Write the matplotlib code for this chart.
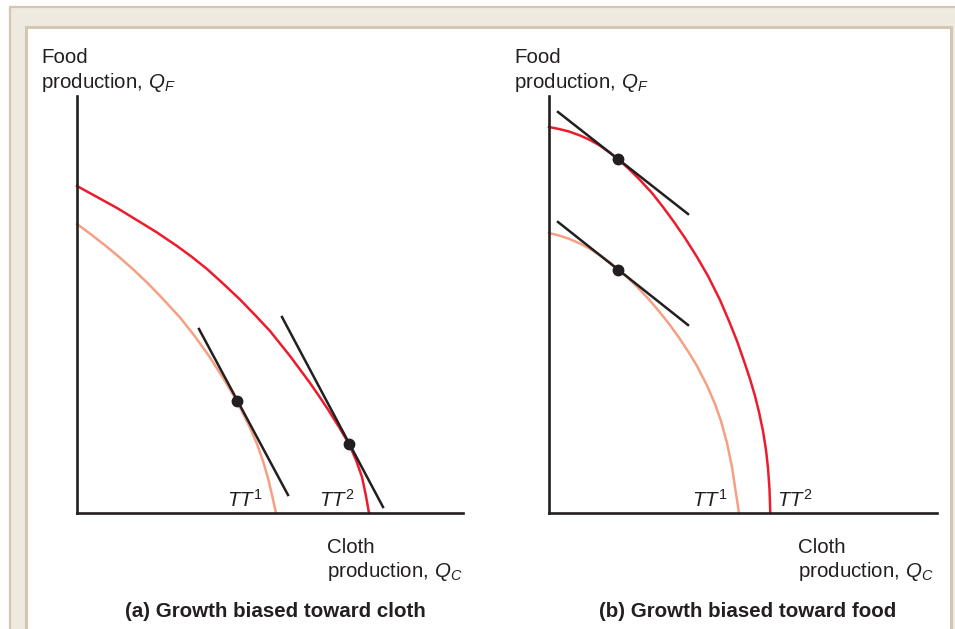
import matplotlib
matplotlib.use("Agg")
import matplotlib.pyplot as plt
from matplotlib.patches import Rectangle

# figure is 955 x 629 px, everything below placed in pixel units
W, H = 955, 629

plt.rcParams['font.family'] = ['Liberation Sans', 'DejaVu Sans']
plt.rcParams['mathtext.fontset'] = 'custom'
plt.rcParams['mathtext.rm'] = 'Liberation Sans'
plt.rcParams['mathtext.it'] = 'Liberation Sans:italic'
plt.rcParams['mathtext.bf'] = 'Liberation Sans:bold'

# data (units = pixels from the origin of each panel)
# panel (a): growth biased toward cloth
a_tt1_x = [0, 14, 28, 42, 56, 70, 84, 103, 118, 132, 146, 160, 172, 180, 186, 191, 195, 197, 199]
a_tt1_y = [289, 278.6, 267.7, 256.1, 243.8, 230.5, 216.1, 195.5, 176.5, 157, 135.2, 111.5,
           87.5, 69, 52, 35, 18, 9, 0]
a_tt2_x = [0, 20, 40, 63, 80, 100, 115, 130, 146, 163, 178, 193, 213, 233, 242, 251, 262,
           272, 279, 285, 289, 292]
a_tt2_y = [327, 316, 305, 291, 280.5, 267, 256, 244, 229.5, 213.5, 198, 182, 157, 130, 117,
           103.5, 86, 69, 53, 36, 17, 0]
a_line1_x = [122, 211]
a_line1_y = [184, 18]
a_line2_x = [205, 306]
a_line2_y = [196, 6]
a_dots_x = [160, 272]
a_dots_y = [112, 69]

# panel (b): growth biased toward food
b_tt1_x = [0, 10, 20, 31, 40, 50, 60, 69, 80, 90, 99, 110, 120, 130, 140, 148, 158, 166,
           172, 178, 183, 186, 188, 190]
b_tt1_y = [280, 277.5, 274.2, 269.5, 264.7, 258.5, 251.3, 244, 234.2, 224.2, 214.6, 201.8,
           189.2, 175.4, 160.2, 147, 127.5, 109, 92, 70, 46, 26, 13, 0]
b_tt2_x = [0, 10, 20, 31, 40, 50, 60, 69, 80, 91, 103, 114, 125, 136, 148, 159, 165, 171,
           180, 188, 195, 201, 206, 210, 214, 217, 219, 220.5, 221.3]
b_tt2_y = [386, 384, 381.5, 377.5, 373.5, 368, 361, 354, 344, 333, 320, 306, 291, 275, 256,
           237, 225, 213, 192, 172, 152, 134, 117, 101, 82, 63, 45, 24, 0]
b_line1_x = [9, 139]
b_line1_y = [291, 188]
b_line2_x = [9, 139]
b_line2_y = [401, 299]
b_dots_x = [69, 69]
b_dots_y = [243, 354]

RED = '#ec1c2d'
SALMON = '#f5a083'
INK = '#231f20'
TAN = '#d3c7b3'
BEIGE = '#efeae0'


def fx(x):
    return x / W


def fy(y):
    return 1 - y / H


fig = plt.figure(figsize=(W / 100, H / 100), dpi=100)
fig.patch.set_facecolor('white')

# beige frame and white inner panel
fig.add_artist(Rectangle((fx(10), fy(700)), fx(1000), 700 / H - 7 / H,
                         transform=fig.transFigure, facecolor=BEIGE,
                         edgecolor=TAN, linewidth=1.6, zorder=0))
fig.add_artist(Rectangle((fx(25.5), fy(700)), fx(925.5), 700 / H - 26.5 / H,
                         transform=fig.transFigure, facecolor='white',
                         edgecolor=TAN, linewidth=2.2, zorder=0))


def panel(left, right, xs1, ys1, xs2, ys2, l1x, l1y, l2x, l2y, dx, dy):
    top, bottom = 96, 513
    ax = fig.add_axes([fx(left), fy(bottom), fx(right - left), (bottom - top) / H])
    ax.set_xlim(0, right - left)
    ax.set_ylim(0, bottom - top)
    ax.patch.set_visible(False)
    for s in ['top', 'right']:
        ax.spines[s].set_visible(False)
    for s in ['left', 'bottom']:
        ax.spines[s].set_linewidth(1.9)
        ax.spines[s].set_color(INK)
        ax.spines[s].set_zorder(5)
    ax.set_xticks([])
    ax.set_yticks([])
    ax.plot(xs1, ys1, color=SALMON, lw=1.8, clip_on=False, solid_joinstyle='round')
    ax.plot(xs2, ys2, color=RED, lw=1.8, clip_on=False, solid_joinstyle='round')
    ax.plot(l1x, l1y, color=INK, lw=1.8, clip_on=False)
    ax.plot(l2x, l2y, color=INK, lw=1.8, clip_on=False)
    ax.plot(dx, dy, 'o', color=INK, ms=7.5, clip_on=False, zorder=6)
    return ax


panel(77, 463, a_tt1_x, a_tt1_y, a_tt2_x, a_tt2_y,
      a_line1_x, a_line1_y, a_line2_x, a_line2_y, a_dots_x, a_dots_y)
panel(549, 937, b_tt1_x, b_tt1_y, b_tt2_x, b_tt2_y,
      b_line1_x, b_line1_y, b_line2_x, b_line2_y, b_dots_x, b_dots_y)

fs = 14.8
# axis labels
for x0 in [41, 514]:
    fig.text(fx(x0), fy(63), 'Food', fontsize=fs, color=INK, va='baseline')
    fig.text(fx(x0), fy(88), r'production, $Q_F$', fontsize=fs, color=INK, va='baseline')
for x0 in [327, 798]:
    fig.text(fx(x0), fy(553), 'Cloth', fontsize=fs, color=INK, va='baseline')
    fig.text(fx(x0), fy(577), r'production, $Q_C$', fontsize=fs, color=INK, va='baseline')

# curve labels
for x0, lab in [(227, r'$TT^1$'), (319, r'$TT^2$'), (692, r'$TT^1$'), (777, r'$TT^2$')]:
    fig.text(fx(x0), fy(507), lab, fontsize=fs, color=INK, va='baseline')

# panel captions
fig.text(fx(275), fy(617), '(a) Growth biased toward cloth', fontsize=fs,
         fontweight='bold', color=INK, ha='center', va='baseline')
fig.text(fx(748), fy(617), '(b) Growth biased toward food', fontsize=fs,
         fontweight='bold', color=INK, ha='center', va='baseline')

fig.savefig('out.png', dpi=100)
